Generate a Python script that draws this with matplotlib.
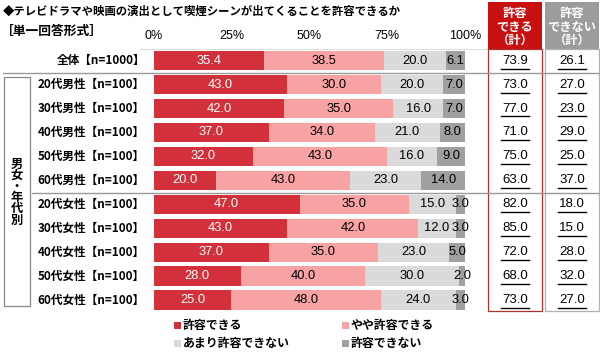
import matplotlib
matplotlib.use("Agg")
import matplotlib.pyplot as plt
from matplotlib.patches import Rectangle
from matplotlib.lines import Line2D
from matplotlib.transforms import blended_transform_factory

plt.rcParams['font.family'] = ['Noto Sans CJK JP', 'DejaVu Sans']

title = "◆テレビドラマや映画の演出として喫煙シーンが出てくることを許容できるか"
subtitle = "［単一回答形式］"
categories = ["全体【n=1000】",
              "20代男性【n=100】", "30代男性【n=100】", "40代男性【n=100】",
              "50代男性【n=100】", "60代男性【n=100】",
              "20代女性【n=100】", "30代女性【n=100】", "40代女性【n=100】",
              "50代女性【n=100】", "60代女性【n=100】"]
series_names = ["許容できる", "やや許容できる", "あまり許容できない", "許容できない"]
s_ok = [35.4, 43.0, 42.0, 37.0, 32.0, 20.0, 47.0, 43.0, 37.0, 28.0, 25.0]
s_some = [38.5, 30.0, 35.0, 34.0, 43.0, 43.0, 35.0, 42.0, 35.0, 40.0, 48.0]
s_notmuch = [20.0, 20.0, 16.0, 21.0, 16.0, 23.0, 15.0, 12.0, 23.0, 30.0, 24.0]
s_no = [6.1, 7.0, 7.0, 8.0, 9.0, 14.0, 3.0, 3.0, 5.0, 2.0, 3.0]
total_ok = [73.9, 73.0, 77.0, 71.0, 75.0, 63.0, 82.0, 85.0, 72.0, 68.0, 73.0]
total_no = [26.1, 27.0, 23.0, 29.0, 25.0, 37.0, 18.0, 15.0, 28.0, 32.0, 27.0]
xticks = [0, 25, 50, 75, 100]
xticklabels = ["0%", "25%", "50%", "75%", "100%"]
group_label = "男\n女\n・\n年\n代\n別"
head_ok = "許容\nできる\n（計）"
head_no = "許容\nできない\n（計）"

colors = ['#D2303A', '#F8A3A3', '#DADADA', '#A0A0A0']
text_colors = ['white', 'black', 'black', 'black']

W, H = 600, 352
fig = plt.figure(figsize=(6, 3.52), dpi=100)

def fx(px):
    return px / W

def fy(py):
    return 1 - py / H

n = len(categories)
row0, step = 60.7, 23.93
top_px = row0 - step / 2
bot_px = row0 + step * (n - 0.5)
ax = fig.add_axes([fx(153.5), fy(bot_px), fx(465) - fx(153.5), fy(top_px) - fy(bot_px)])
ax.set_xlim(0, 100)
ax.set_ylim(n - 0.5, -0.5)
ax.axis('off')

num_font = ['Liberation Sans']
series = [s_ok, s_some, s_notmuch, s_no]
ys = list(range(n))
left = [0.0] * n
for si, vals in enumerate(series):
    ax.barh(ys, vals, left=left, height=0.8, color=colors[si], edgecolor='none')
    for i, v in enumerate(vals):
        ax.text(left[i] + v / 2, i, f"{v:.1f}", ha='center', va='center',
                fontsize=9.3, color=text_colors[si], family=num_font)
    left = [l + v for l, v in zip(left, vals)]

trans_x = blended_transform_factory(ax.transData, fig.transFigure)
trans_b = blended_transform_factory(fig.transFigure, ax.transData)

# tick labels
for t, lab in zip(xticks, xticklabels):
    ax.text(t, fy(36), lab, ha='center', va='center', fontsize=9,
            family=num_font, transform=trans_x)

# category labels
for i, c in enumerate(categories):
    ax.text(fx(145), i, c, ha='right', va='center', fontsize=8.4,
            fontweight='bold', transform=trans_b)

# title
fig.text(fx(3), fy(11), title, ha='left', va='center', fontsize=8.2, fontweight='bold')
fig.text(fx(1), fy(31), subtitle, ha='left', va='center', fontsize=9.2, fontweight='bold')

# header boxes
fig.patches.append(Rectangle((fx(488), fy(49)), fx(542) - fx(488), fy(2) - fy(49),
                             transform=fig.transFigure, facecolor='#C81010', edgecolor='none'))
fig.patches.append(Rectangle((fx(545), fy(49)), fx(599) - fx(545), fy(2) - fy(49),
                             transform=fig.transFigure, facecolor='#9C9C9C', edgecolor='none'))
fig.patches.append(Rectangle((fx(488), fy(311)), fx(542) - fx(488), fy(49) - fy(311),
                             transform=fig.transFigure, facecolor='none', edgecolor='#B03030', lw=0.9))
fig.patches.append(Rectangle((fx(545), fy(311)), fx(599) - fx(545), fy(49) - fy(311),
                             transform=fig.transFigure, facecolor='none', edgecolor='#B0B0B0', lw=0.9))
for xc, head in [(515, head_ok), (572, head_no)]:
    fig.text(fx(xc), fy(27), head, ha='center', va='center', fontsize=8.8,
             fontweight='bold', color='white', linespacing=1.05)

# totals
for i in range(n):
    for xc, vals in [(515, total_ok), (572, total_no)]:
        ax.text(fx(xc), i, f"{vals[i]:.1f}", ha='center', va='center', fontsize=9.5,
                family=num_font, transform=trans_b)
        ax.add_line(Line2D([fx(xc - 14), fx(xc + 14)], [i + 0.33, i + 0.33],
                           transform=trans_b, color='black', lw=1.0, clip_on=False))

# separator lines
fig.add_artist(Line2D([fx(140), fx(487)], [fy(48.5), fy(48.5)], color='#DDDDDD', lw=0.8))
fig.add_artist(Line2D([fx(3), fx(600)], [fy(72.8), fy(72.8)], color='#999999', lw=1.0))
fig.add_artist(Line2D([fx(32), fx(600)], [fy(193), fy(193)], color='#999999', lw=1.0))
# group box
fig.patches.append(Rectangle((fx(4), fy(306)), fx(30) - fx(4), fy(77) - fy(306),
                             transform=fig.transFigure, facecolor='none', edgecolor='#888888', lw=0.9))
fig.text(fx(17), fy(192), group_label, ha='center', va='center', fontsize=8.8,
         fontweight='bold', linespacing=0.82)

# legend
leg_pos = [(177, 325), (345, 325), (177, 343), (345, 343)]
for (px, py), name, col in zip(leg_pos, series_names, colors):
    fig.patches.append(Rectangle((fx(px - 3.5), fy(py + 3.5)), fx(7), 7 / H,
                                 transform=fig.transFigure, facecolor=col, edgecolor='none'))
    fig.text(fx(px + 6), fy(py), name, ha='left', va='center', fontsize=8.6, fontweight='bold')

fig.savefig("out.png", dpi=100)
